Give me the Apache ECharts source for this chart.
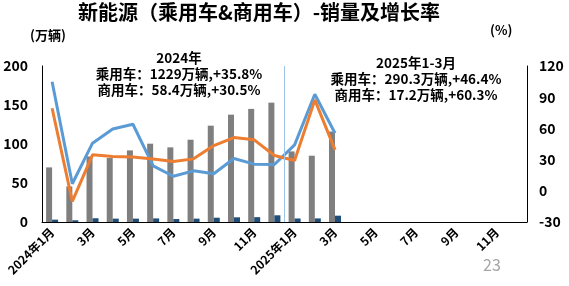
<!DOCTYPE html>
<html><head><meta charset="utf-8">
<script src="https://cdn.jsdelivr.net/npm/echarts@6/dist/echarts.min.js"></script>
<style>html,body{margin:0;padding:0;background:#fff}#c{width:569px;height:286px}</style>
</head><body><div id="c"></div>
<script>
var categories = ['2024年1月','2月','3月','4月','5月','6月','7月','8月','9月','10月','11月','12月',
                  '2025年1月','2月','3月','4月','5月','6月','7月','8月','9月','10月','11月','12月'];
var passengerSales = [70,45.6,84,82,91.8,100.4,95.7,105.5,123.5,137.6,145,153,90.5,85,116];
var commercialSales = [3,2.2,4.8,4.3,4.3,4.6,3.8,4.3,5.5,6,6.2,8.6,4.5,4.6,8.1];
var commercialGrowth = [104.9,6.8,45.8,59.5,64,24,14,19.2,16.4,31,25.6,25.3,44.2,92.8,55.4];
var passengerGrowth = [79.4,-10.2,34.6,33,32.4,30.5,28.2,30.7,43.5,51.2,49,33.9,29.1,87.4,39.4];
var leftTicks = {min:0,max:200,interval:50};
var rightTicks = {min:-30,max:120,interval:30};
var note2024 = ['2024年','乘用车：1229万辆,+35.8%','商用车：58.4万辆,+30.5%'];
var note2025 = ['2025年1-3月','乘用车：290.3万辆,+46.4%','商用车：17.2万辆,+60.3%'];

var FONT = '"Noto Sans CJK SC","Noto Sans",sans-serif';
var chart = echarts.init(document.getElementById('c'));
var axisLbl = {color:'#000',fontWeight:'bold',fontSize:14,fontFamily:FONT};
chart.setOption({
  animation:false,
  textStyle:{fontFamily:FONT},
  grid:{left:42,right:42,top:66,bottom:64},
  title:{text:'新能源（乘用车&商用车）-销量及增长率',left:254,textAlign:'center',top:-3,
    textStyle:{fontSize:20,fontWeight:'bold',color:'#000',fontFamily:FONT}},
  graphic:[
    {type:'text',left:30,top:29,style:{text:'(万辆)',font:'bold 13px '+FONT,fill:'#000'}},
    {type:'text',left:490,top:24,style:{text:'(%)',font:'bold 13px '+FONT,fill:'#000'}},
    {type:'text',x:179,y:50,style:{text:note2024.join('\n'),font:'bold 13.5px '+FONT,fill:'#000',align:'center',lineHeight:16}},
    {type:'text',x:416,y:55,style:{text:note2025.join('\n'),font:'bold 13.5px '+FONT,fill:'#000',align:'center',lineHeight:16}},
    {type:'text',x:483,y:257,style:{text:'23',font:'16px '+FONT,fill:'#a6a6a6'}}
  ],
  xAxis:[{type:'category',data:categories,
    axisLine:{lineStyle:{color:'#000',width:1}},axisTick:{show:false},
    axisLabel:{interval:1,rotate:45,color:'#000',fontWeight:'bold',fontSize:12,fontFamily:FONT,margin:8}},
    {type:'value',min:0,max:24,show:false}],
  yAxis:[{type:'value',min:leftTicks.min,max:leftTicks.max,interval:leftTicks.interval,
      axisLine:{show:true,lineStyle:{color:'#000'}},axisTick:{show:false},splitLine:{show:false},
      axisLabel:Object.assign({margin:14},axisLbl)},
    {type:'value',min:rightTicks.min,max:rightTicks.max,interval:rightTicks.interval,
      axisLine:{show:true,lineStyle:{color:'#000'}},axisTick:{show:false},splitLine:{show:false},
      axisLabel:Object.assign({margin:12},axisLbl)}],
  series:[
    {type:'bar',data:passengerSales,barWidth:6,barGap:'0%',itemStyle:{color:'#7f7f7f'}},
    {type:'bar',data:commercialSales,barWidth:6,barGap:'0%',itemStyle:{color:'#1f4e79'}},
    {type:'line',yAxisIndex:1,data:commercialGrowth,symbol:'none',lineStyle:{color:'#5b9bd5',width:3}},
    {type:'line',yAxisIndex:1,data:passengerGrowth,symbol:'none',lineStyle:{color:'#ed7d31',width:3}},
    {type:'line',xAxisIndex:1,data:[],markLine:{symbol:'none',silent:true,label:{show:false},
      lineStyle:{color:'#9dc3e6',width:1,type:'solid'},data:[{xAxis:12}]}}
  ]
});
</script></body></html>
